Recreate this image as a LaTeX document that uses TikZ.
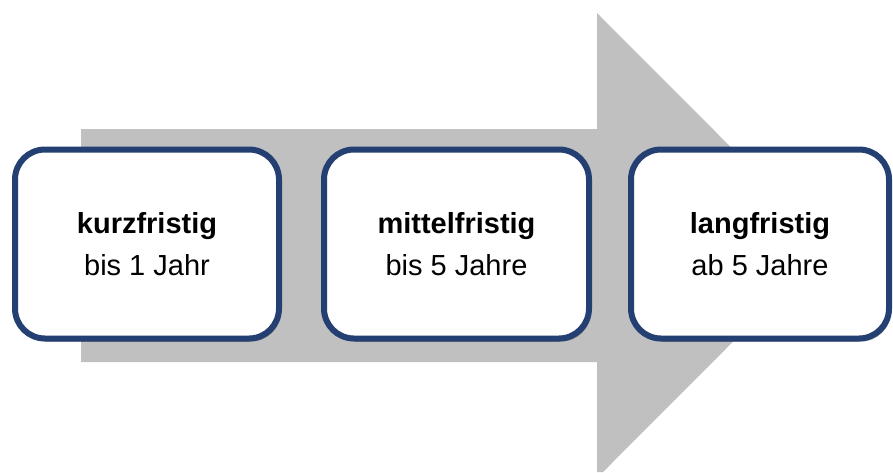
\documentclass[tikz,border=0pt]{standalone}
\usepackage{fontspec}
\setmainfont{Liberation Sans}
\usetikzlibrary{shadows}
\definecolor{arrowgray}{HTML}{C0C0C0}
\definecolor{boxnavy}{HTML}{243F72}
\tikzset{
  phasebox/.style={draw=boxnavy, line width=6pt, fill=white, rounded corners=30pt,
    inner sep=0pt, minimum height=189pt, align=center,
    font=\fontsize{29}{42}\selectfont,
    drop shadow={shadow xshift=2pt, shadow yshift=-3pt, opacity=0.35, fill=black}},
}
\begin{document}
\begin{tikzpicture}[x=1pt,y=-1pt]
\useasboundingbox (0,0) rectangle (893,472);
\fill[arrowgray] (81,129) -- (597,129) -- (597,13) -- (829,245.5) -- (603,472)
  -- (597,472) -- (597,362) -- (81,362) -- cycle;
\node[phasebox, minimum width=264pt] (b1) at (147,244) {\textbf{kurzfristig}\\bis 1 Jahr};
\node[phasebox, minimum width=265pt] (b2) at (456.5,244) {\textbf{mittelfristig}\\bis 5 Jahre};
\node[phasebox, minimum width=258pt] (b3) at (760,244) {\textbf{langfristig}\\ab 5 Jahre};
\end{tikzpicture}
\end{document}
